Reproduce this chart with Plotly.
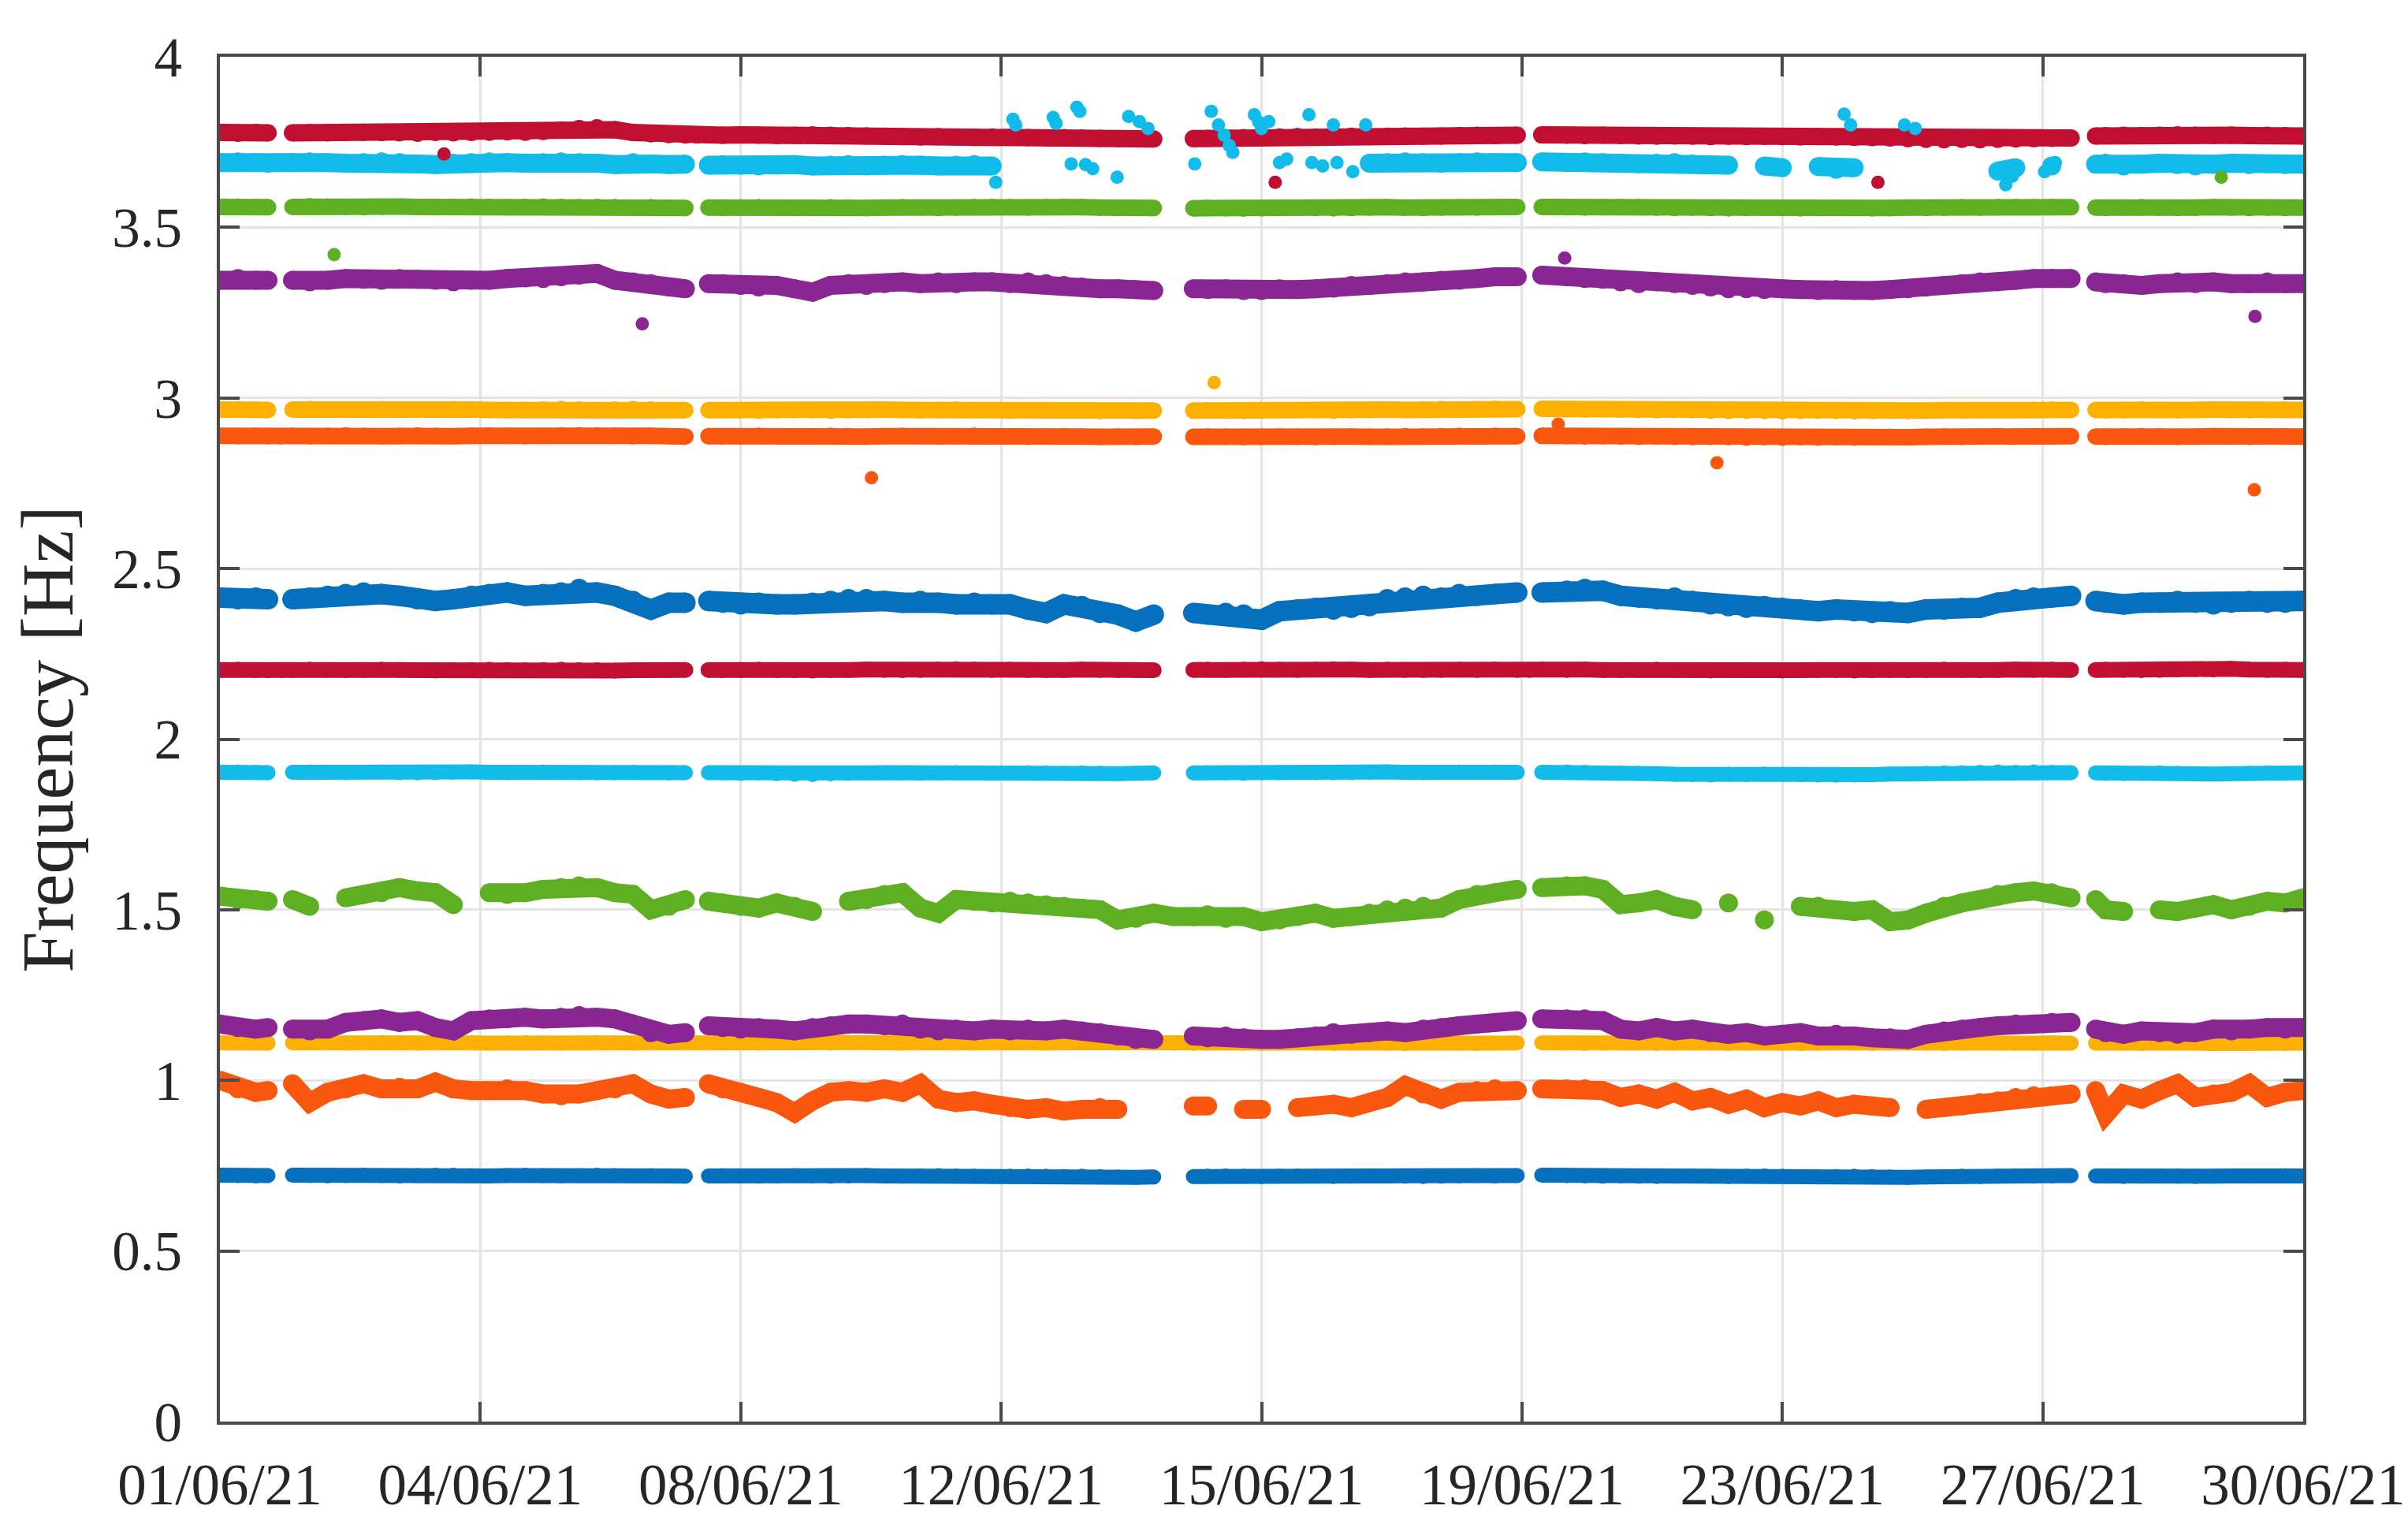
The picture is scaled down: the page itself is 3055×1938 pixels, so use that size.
import plotly.graph_objects as go

# ---------------- data ----------------
# sample days (day of June 2021, fractional); the entries 1.84, 7.64, 14.28,
# 19.23 and 26.94 sit inside the short recording gaps
DAYS = [
    1.0, 1.25, 1.5, 1.67,
    1.84,
    2.01, 2.25, 2.5, 2.75, 3.0, 3.25, 3.5, 3.75, 4.0, 4.25, 4.5, 4.75, 5.0, 5.25,
    5.5, 5.75, 6.0, 6.25, 6.5, 6.75, 7.0, 7.25, 7.48,
    7.64,
    7.8, 8.0, 8.25, 8.5, 8.75, 9.0, 9.25, 9.5, 9.75, 10.0, 10.25, 10.5, 10.75, 11.0,
    11.25, 11.5, 11.75, 12.0, 12.25, 12.5, 12.75, 13.0, 13.25, 13.5, 13.75, 14.0,
    14.28,
    14.55, 14.75, 15.0, 15.25, 15.5, 15.75, 16.0, 16.25, 16.5, 16.75, 17.0, 17.25,
    17.5, 17.75, 18.0, 18.25, 18.5, 18.75, 19.06,
    19.23,
    19.4, 19.75, 20.0, 20.25, 20.5, 20.75, 21.0, 21.25, 21.5, 21.75, 22.0, 22.25,
    22.5, 22.75, 23.0, 23.25, 23.5, 23.75, 24.0, 24.25, 24.5, 24.75, 25.0, 25.25,
    25.5, 25.75, 26.0, 26.25, 26.5, 26.77,
    26.94,
    27.11, 27.25, 27.5, 27.75, 28.0, 28.25, 28.5, 28.75, 29.0, 29.25, 29.5, 29.75, 30.0,
]

BLUE_072 = [
    0.722, 0.721, 0.720, 0.721,
    None,
    0.722, 0.721, 0.720, 0.721, 0.722, 0.721, 0.720, 0.721, 0.722, 0.722, 0.721, 0.720,
    0.721, 0.722, 0.721, 0.720, 0.721, 0.722, 0.721, 0.720, 0.721, 0.720, 0.719,
    None,
    0.720, 0.721, 0.720, 0.719, 0.720, 0.721, 0.720, 0.719, 0.720, 0.721, 0.720, 0.719,
    0.720, 0.721, 0.720, 0.719, 0.718, 0.719, 0.720, 0.719, 0.718, 0.719, 0.718, 0.717,
    0.716, 0.717,
    None,
    0.718, 0.719, 0.720, 0.719, 0.718, 0.719, 0.720, 0.719, 0.718, 0.719, 0.720, 0.720,
    0.719, 0.718, 0.719, 0.720, 0.721, 0.720, 0.721,
    None,
    0.722, 0.721, 0.720, 0.719, 0.720, 0.719, 0.718, 0.719, 0.720, 0.719, 0.718, 0.719,
    0.720, 0.719, 0.718, 0.717, 0.718, 0.719, 0.718, 0.717, 0.716, 0.717, 0.718, 0.719,
    0.718, 0.719, 0.720, 0.719, 0.720, 0.721,
    None,
    0.720, 0.719, 0.718, 0.719, 0.720, 0.719, 0.718, 0.719, 0.720, 0.719, 0.720, 0.721, 0.720,
]

ORANGE_096 = [
    1.00, 0.975, 0.965, 0.97,
    None,
    0.99, 0.935, 0.965, 0.975, 0.99, 0.975, 0.98, 0.975, 0.995, 0.975, 0.97, 0.97,
    0.975, 0.97, 0.96, 0.955, 0.96, 0.97, 0.975, 0.99, 0.96, 0.945, 0.95,
    None,
    0.99, 0.975, 0.965, 0.95, 0.935, 0.905, 0.94, 0.965, 0.97, 0.965, 0.975, 0.965,
    0.99, 0.945, 0.935, 0.94, 0.93, 0.92, 0.915, 0.92, 0.91, 0.915, 0.92, 0.915,
    None, None,
    None,
    0.925, 0.925, None, 0.915, 0.915, None, 0.92, 0.925, 0.93, 0.92, 0.935, 0.95,
    0.985, 0.96, 0.945, 0.965, 0.97, 0.975, 0.97,
    None,
    0.975, 0.975, 0.975, 0.97, 0.95, 0.96, 0.945, 0.965, 0.94, 0.95, 0.93, 0.945,
    0.92, 0.935, 0.925, 0.94, 0.92, 0.93, 0.925, 0.92, None, 0.915, 0.92, 0.925,
    0.935, 0.94, 0.95, 0.955, 0.955, 0.96,
    None,
    0.97, 0.90, 0.96, 0.945, 0.97, 0.99, 0.95, 0.96, 0.965, 0.99, 0.95, 0.965, 0.97,
]

YELLOW_111 = [
    1.110, 1.111, 1.110, 1.109,
    None,
    1.110, 1.111, 1.110, 1.109, 1.110, 1.111, 1.110, 1.109, 1.110, 1.111, 1.110, 1.109,
    1.110, 1.111, 1.110, 1.109, 1.110, 1.111, 1.110, 1.109, 1.110, 1.111, 1.110,
    1.110,
    1.110, 1.111, 1.110, 1.109, 1.110, 1.111, 1.110, 1.109, 1.110, 1.111, 1.110, 1.109,
    1.110, 1.111, 1.110, 1.109, 1.110, 1.111, 1.110, 1.109, 1.110, 1.111, 1.110, 1.109,
    1.110, 1.109,
    1.109,
    1.108, 1.109, 1.110, 1.109, 1.108, 1.109, 1.110, 1.109, 1.108, 1.109, 1.110, 1.109,
    1.108, 1.109, 1.110, 1.109, 1.108, 1.109, 1.110,
    None,
    1.110, 1.109, 1.108, 1.109, 1.110, 1.109, 1.108, 1.109, 1.110, 1.109, 1.108, 1.109,
    1.110, 1.109, 1.108, 1.109, 1.110, 1.109, 1.108, 1.109, 1.110, 1.109, 1.108, 1.109,
    1.110, 1.109, 1.108, 1.109, 1.110, 1.109,
    None,
    1.109, 1.110, 1.109, 1.108, 1.109, 1.110, 1.109, 1.108, 1.109, 1.110, 1.109, 1.108, 1.109,
]

PURPLE_115 = [
    1.165, 1.155, 1.15, 1.155,
    None,
    1.15, 1.145, 1.15, 1.17, 1.175, 1.18, 1.17, 1.175, 1.155, 1.145, 1.175, 1.18,
    1.18, 1.185, 1.18, 1.185, 1.19, 1.185, 1.18, 1.165, 1.14, 1.135, 1.14,
    None,
    1.16, 1.155, 1.15, 1.155, 1.15, 1.145, 1.155, 1.16, 1.165, 1.165, 1.16, 1.165,
    1.15, 1.145, 1.15, 1.145, 1.15, 1.145, 1.15, 1.145, 1.15, 1.145, 1.14, 1.13,
    1.12, 1.12,
    None,
    1.13, 1.125, 1.13, 1.125, 1.12, 1.12, 1.125, 1.13, 1.14, 1.135, 1.14, 1.145,
    1.14, 1.15, 1.155, 1.16, 1.165, 1.17, 1.175,
    None,
    1.18, 1.18, 1.18, 1.175, 1.15, 1.145, 1.155, 1.145, 1.15, 1.14, 1.135, 1.14,
    1.13, 1.135, 1.14, 1.13, 1.135, 1.13, 1.125, 1.125, 1.12, 1.135, 1.145, 1.15,
    1.155, 1.16, 1.165, 1.165, 1.17, 1.17,
    None,
    1.15, 1.14, 1.135, 1.145, 1.14, 1.135, 1.14, 1.15, 1.145, 1.15, 1.155, 1.15, 1.155,
]

GREEN_152 = [
    1.54, 1.53, 1.53, 1.525,
    None,
    1.53, 1.51, None, 1.535, 1.545, 1.55, 1.565, 1.555, 1.55, 1.515, None, 1.55,
    1.545, 1.55, 1.56, 1.565, 1.57, 1.565, 1.55, 1.545, 1.50, 1.51, 1.53,
    None,
    1.525, 1.52, 1.51, 1.505, 1.52, 1.51, 1.495, None, 1.525, 1.53, 1.545, 1.55,
    1.505, 1.49, 1.53, 1.525, 1.52, 1.525, 1.52, 1.515, 1.51, 1.505, 1.50, 1.47,
    1.475, 1.49,
    1.48,
    1.48, 1.485, 1.475, 1.48, 1.465, 1.47, 1.48, 1.49, 1.475, 1.48, 1.49, 1.50,
    1.505, 1.51, 1.505, 1.53, 1.545, 1.55, 1.56,
    None,
    1.565, 1.57, 1.57, 1.56, 1.515, 1.52, 1.53, 1.51, 1.50, None, 1.52, None,
    1.47, None, 1.51, 1.51, 1.50, 1.495, 1.50, 1.465, 1.47, 1.49, 1.51, 1.52,
    1.53, 1.545, 1.55, 1.555, 1.55, 1.535,
    None,
    1.53, 1.50, 1.495, None, 1.50, 1.495, 1.505, 1.515, 1.50, 1.51, 1.525, 1.52, 1.535,
]

CYAN_190 = [
    1.903, 1.904, 1.903, 1.902,
    None,
    1.903, 1.904, 1.903, 1.902, 1.903, 1.904, 1.902, 1.901, 1.902, 1.903, 1.904, 1.903,
    1.902, 1.903, 1.904, 1.903, 1.902, 1.901, 1.902, 1.903, 1.902, 1.901, 1.902,
    None,
    1.902, 1.901, 1.900, 1.901, 1.899, 1.897, 1.896, 1.898, 1.900, 1.901, 1.902, 1.901,
    1.900, 1.901, 1.902, 1.901, 1.900, 1.901, 1.902, 1.901, 1.900, 1.901, 1.900, 1.899,
    1.900, 1.901,
    None,
    1.901, 1.902, 1.901, 1.900, 1.901, 1.902, 1.903, 1.902, 1.901, 1.902, 1.903, 1.904,
    1.903, 1.902, 1.903, 1.904, 1.903, 1.904, 1.903,
    None,
    1.903, 1.904, 1.903, 1.902, 1.901, 1.900, 1.899, 1.897, 1.896, 1.895, 1.897, 1.896,
    1.898, 1.897, 1.896, 1.895, 1.894, 1.895, 1.896, 1.898, 1.899, 1.900, 1.901, 1.902,
    1.903, 1.904, 1.903, 1.904, 1.903, 1.902,
    None,
    1.901, 1.900, 1.899, 1.900, 1.901, 1.900, 1.899, 1.898, 1.899, 1.900, 1.901, 1.900, 1.901,
]

RED_220 = [
    2.203, 2.204, 2.203, 2.202,
    2.203,
    2.203, 2.204, 2.203, 2.202, 2.203, 2.204, 2.203, 2.202, 2.201, 2.202, 2.203, 2.204,
    2.203, 2.202, 2.203, 2.204, 2.203, 2.202, 2.201, 2.202, 2.203, 2.202, 2.203,
    None,
    2.203, 2.202, 2.203, 2.204, 2.203, 2.202, 2.201, 2.202, 2.203, 2.204, 2.203, 2.202,
    2.203, 2.204, 2.205, 2.204, 2.203, 2.204, 2.203, 2.202, 2.203, 2.204, 2.203, 2.202,
    2.203, 2.202,
    None,
    2.203, 2.204, 2.203, 2.204, 2.205, 2.204, 2.203, 2.204, 2.205, 2.204, 2.203, 2.204,
    2.203, 2.202, 2.203, 2.204, 2.203, 2.204, 2.203,
    2.203,
    2.204, 2.203, 2.204, 2.203, 2.202, 2.203, 2.204, 2.203, 2.202, 2.201, 2.202, 2.203,
    2.202, 2.201, 2.202, 2.203, 2.202, 2.201, 2.202, 2.203, 2.202, 2.203, 2.204, 2.203,
    2.202, 2.203, 2.204, 2.203, 2.204, 2.203,
    None,
    2.203, 2.204, 2.203, 2.202, 2.203, 2.204, 2.205, 2.204, 2.206, 2.204, 2.203, 2.204, 2.203,
]

BLUE_240 = [
    2.415, 2.41, 2.415, 2.41,
    None,
    2.41, 2.415, 2.42, 2.425, 2.43, 2.425, 2.42, 2.41, 2.405, 2.41, 2.42, 2.425,
    2.43, 2.42, 2.425, 2.43, 2.44, 2.43, 2.42, 2.405, 2.38, 2.40, 2.40,
    None,
    2.405, 2.40, 2.395, 2.40, 2.395, 2.395, 2.40, 2.405, 2.41, 2.41, 2.405, 2.40,
    2.405, 2.40, 2.395, 2.40, 2.395, 2.395, 2.38, 2.37, 2.395, 2.39, 2.37, 2.365,
    2.345, 2.365,
    None,
    2.37, 2.365, 2.37, 2.365, 2.35, 2.375, 2.38, 2.385, 2.38, 2.385, 2.39, 2.41,
    2.415, 2.42, 2.415, 2.425, 2.42, 2.425, 2.43,
    None,
    2.43, 2.435, 2.44, 2.435, 2.42, 2.415, 2.41, 2.415, 2.405, 2.395, 2.39, 2.385,
    2.39, 2.385, 2.38, 2.375, 2.38, 2.375, 2.37, 2.375, 2.37, 2.38, 2.38, 2.385,
    2.385, 2.40, 2.41, 2.415, 2.415, 2.42,
    None,
    2.405, 2.40, 2.395, 2.40, 2.40, 2.405, 2.40, 2.395, 2.40, 2.405, 2.40, 2.40, 2.405,
]

ORANGE_288 = [
    2.889, 2.888, 2.889, 2.888,
    2.888,
    2.889, 2.888, 2.889, 2.890, 2.889, 2.888, 2.889, 2.890, 2.889, 2.888, 2.889, 2.890,
    2.889, 2.888, 2.889, 2.890, 2.891, 2.890, 2.889, 2.888, 2.889, 2.888, 2.887,
    None,
    2.888, 2.887, 2.888, 2.889, 2.888, 2.887, 2.888, 2.889, 2.888, 2.887, 2.888, 2.889,
    2.888, 2.887, 2.888, 2.889, 2.888, 2.887, 2.886, 2.887, 2.888, 2.887, 2.886, 2.887,
    2.886, 2.887,
    None,
    2.886, 2.887, 2.886, 2.885, 2.886, 2.887, 2.886, 2.885, 2.886, 2.887, 2.886, 2.887,
    2.888, 2.887, 2.888, 2.889, 2.888, 2.889, 2.888,
    None,
    2.889, 2.888, 2.887, 2.888, 2.887, 2.886, 2.887, 2.886, 2.885, 2.886, 2.885, 2.884,
    2.885, 2.884, 2.885, 2.884, 2.885, 2.884, 2.885, 2.886, 2.885, 2.886, 2.887, 2.886,
    2.887, 2.888, 2.887, 2.888, 2.887, 2.888,
    None,
    2.887, 2.886, 2.887, 2.888, 2.887, 2.886, 2.887, 2.888, 2.887, 2.886, 2.887, 2.888, 2.887,
]

YELLOW_296 = [
    2.966, 2.967, 2.966, 2.965,
    None,
    2.966, 2.967, 2.966, 2.965, 2.966, 2.967, 2.966, 2.965, 2.966, 2.967, 2.966, 2.965,
    2.964, 2.965, 2.966, 2.967, 2.966, 2.965, 2.966, 2.967, 2.966, 2.965, 2.964,
    None,
    2.964, 2.965, 2.964, 2.963, 2.964, 2.965, 2.964, 2.963, 2.964, 2.965, 2.966, 2.965,
    2.964, 2.965, 2.966, 2.965, 2.964, 2.963, 2.964, 2.965, 2.964, 2.963, 2.962, 2.963,
    2.962, 2.963,
    None,
    2.963, 2.964, 2.963, 2.962, 2.963, 2.964, 2.965, 2.964, 2.963, 2.964, 2.965, 2.966,
    2.965, 2.966, 2.967, 2.966, 2.967, 2.968, 2.967,
    None,
    2.968, 2.967, 2.966, 2.967, 2.966, 2.965, 2.964, 2.965, 2.964, 2.963, 2.962, 2.963,
    2.962, 2.961, 2.962, 2.963, 2.962, 2.961, 2.962, 2.963, 2.962, 2.963, 2.964, 2.963,
    2.964, 2.965, 2.964, 2.965, 2.966, 2.965,
    None,
    2.965, 2.964, 2.965, 2.966, 2.965, 2.964, 2.965, 2.966, 2.965, 2.964, 2.965, 2.966, 2.965,
]

PURPLE_333 = [
    3.345, 3.35, 3.345, 3.345,
    None,
    3.345, 3.34, 3.345, 3.35, 3.348, 3.345, 3.35, 3.348, 3.345, 3.34, 3.345, 3.345,
    3.35, 3.352, 3.35, 3.355, 3.36, 3.365, 3.345, 3.34, 3.335, 3.325, 3.32,
    None,
    3.335, 3.335, 3.33, 3.325, 3.33, 3.32, 3.31, 3.33, 3.335, 3.33, 3.335, 3.34,
    3.335, 3.34, 3.335, 3.34, 3.34, 3.335, 3.34, 3.335, 3.33, 3.325, 3.32, 3.32,
    3.318, 3.315,
    None,
    3.32, 3.318, 3.32, 3.315, 3.315, 3.32, 3.318, 3.32, 3.322, 3.33, 3.33, 3.335,
    3.34, 3.34, 3.345, 3.345, 3.35, 3.355, 3.355,
    None,
    3.36, 3.355, 3.35, 3.348, 3.34, 3.335, 3.34, 3.335, 3.33, 3.325, 3.32, 3.32,
    3.318, 3.32, 3.318, 3.315, 3.318, 3.315, 3.315, 3.318, 3.32, 3.325, 3.33, 3.335,
    3.34, 3.34, 3.345, 3.35, 3.35, 3.35,
    None,
    3.34, 3.335, 3.335, 3.33, 3.335, 3.34, 3.335, 3.34, 3.335, 3.335, 3.34, 3.335, 3.335,
]

GREEN_355 = [
    3.560, 3.561, 3.560, 3.559,
    None,
    3.560, 3.562, 3.561, 3.560, 3.559, 3.560, 3.561, 3.560, 3.559, 3.560, 3.561, 3.560,
    3.559, 3.560, 3.561, 3.560, 3.559, 3.560, 3.559, 3.558, 3.559, 3.558, 3.557,
    None,
    3.558, 3.557, 3.558, 3.559, 3.558, 3.557, 3.558, 3.559, 3.558, 3.557, 3.558, 3.559,
    3.558, 3.557, 3.558, 3.559, 3.560, 3.559, 3.558, 3.559, 3.560, 3.559, 3.558, 3.557,
    3.558, 3.557,
    None,
    3.556, 3.557, 3.556, 3.555, 3.556, 3.557, 3.558, 3.557, 3.556, 3.557, 3.558, 3.559,
    3.558, 3.557, 3.558, 3.559, 3.558, 3.559, 3.560,
    None,
    3.560, 3.559, 3.558, 3.559, 3.560, 3.559, 3.558, 3.557, 3.558, 3.557, 3.556, 3.557,
    3.558, 3.557, 3.556, 3.557, 3.558, 3.557, 3.556, 3.557, 3.558, 3.557, 3.558, 3.559,
    3.558, 3.559, 3.560, 3.559, 3.560, 3.559,
    None,
    3.558, 3.557, 3.558, 3.559, 3.558, 3.557, 3.558, 3.559, 3.558, 3.557, 3.558, 3.557, 3.558,
]

CYAN_368 = [
    3.690, 3.692, 3.690, 3.688,
    3.690,
    3.690, 3.692, 3.690, 3.688, 3.690, 3.692, 3.690, 3.686, 3.684, 3.688, 3.690, 3.692,
    3.690, 3.688, 3.690, 3.692, 3.690, 3.688, 3.684, 3.690, 3.686, 3.684, 3.685,
    None,
    3.682, 3.684, 3.682, 3.680, 3.682, 3.684, 3.680, 3.682, 3.684, 3.680, 3.682, 3.684,
    3.682, 3.680, 3.682, 3.684, 3.680, None, None, None, None, None, None, None,
    None, None,
    None,
    None, None, None, None, None, None, None, None, None, None, 3.688, 3.690,
    3.692, 3.690, 3.688, 3.690, 3.692, 3.690, 3.690,
    None,
    3.692, 3.690, 3.692, 3.690, 3.688, 3.686, 3.688, 3.690, 3.686, 3.684, 3.682, None,
    3.680, 3.675, None, 3.678, 3.670, 3.675, None, None, None, None, None, None,
    None, 3.665, 3.675, None, 3.680, None,
    None,
    3.685, 3.688, 3.680, 3.685, 3.688, 3.684, 3.680, 3.685, 3.688, 3.684, 3.686, 3.684, 3.685,
]

RED_377 = [
    3.778, 3.776, 3.778, 3.777,
    None,
    3.777, 3.778, 3.777, 3.778, 3.779, 3.778, 3.777, 3.776, 3.778, 3.777, 3.778, 3.779,
    3.780, 3.779, 3.781, 3.785, 3.790, 3.792, 3.786, 3.778, 3.774, 3.772, 3.771,
    3.771,
    3.771, 3.770, 3.771, 3.770, 3.769, 3.770, 3.771, 3.770, 3.769, 3.768, 3.767, 3.766,
    3.765, 3.766, 3.765, 3.764, 3.765, 3.764, 3.763, 3.762, 3.763, 3.762, 3.761, 3.760,
    3.760, 3.759,
    None,
    3.760, 3.761, 3.762, 3.763, 3.764, 3.765, 3.766, 3.765, 3.766, 3.767, 3.766, 3.767,
    3.768, 3.767, 3.768, 3.769, 3.770, 3.769, 3.770,
    None,
    3.771, 3.770, 3.769, 3.770, 3.769, 3.768, 3.767, 3.768, 3.767, 3.766, 3.767, 3.766,
    3.767, 3.766, 3.765, 3.766, 3.765, 3.764, 3.763, 3.762, 3.760, 3.758, 3.757, 3.758,
    3.757, 3.758, 3.759, 3.760, 3.761, 3.762,
    None,
    3.768, 3.769, 3.770, 3.769, 3.770, 3.771, 3.770, 3.769, 3.770, 3.769, 3.770, 3.769, 3.768,
]

# isolated detections (day, frequency)
OUT_CYAN_DAY = [11.80, 12.04, 12.08, 12.60, 12.64, 12.93, 12.97, 12.85, 13.05, 13.15,
                13.49, 13.65, 13.80, 13.92, 14.57, 14.80, 14.90, 14.98, 15.05, 15.10,
                15.40, 15.46, 15.50, 15.60, 15.75, 15.85, 16.16, 16.20, 16.35, 16.50,
                16.55, 16.77, 16.95, 23.61, 23.70, 24.45, 24.60, 25.86, 25.95, 26.40, 26.55]
OUT_CYAN_VAL = [3.632, 3.817, 3.800, 3.822, 3.805, 3.852, 3.840, 3.686, 3.684, 3.672,
                3.647, 3.825, 3.810, 3.790, 3.686, 3.840, 3.800, 3.770, 3.740, 3.720,
                3.830, 3.809, 3.790, 3.810, 3.690, 3.700, 3.830, 3.690, 3.680, 3.800,
                3.690, 3.663, 3.800, 3.832, 3.800, 3.800, 3.790, 3.625, 3.650, 3.663, 3.690]
OUT_RED_DAY = [4.12, 15.69, 24.08]
OUT_RED_VAL = [3.715, 3.632, 3.632]
OUT_GREEN_DAY = [2.59, 28.86]
OUT_GREEN_VAL = [3.420, 3.647]
OUT_PURPLE_DAY = [6.88, 19.72, 29.33]
OUT_PURPLE_VAL = [3.217, 3.410, 3.239]
OUT_ORANGE_DAY = [10.07, 19.63, 21.84, 29.32]
OUT_ORANGE_VAL = [2.766, 2.923, 2.810, 2.731]
OUT_YELLOW_DAY = [14.84]
OUT_YELLOW_VAL = [3.045]

X_TICK_LABELS = ["01/06/21", "04/06/21", "08/06/21", "12/06/21", "15/06/21",
                 "19/06/21", "23/06/21", "27/06/21", "30/06/21"]
Y_TICKS = [0, 0.5, 1, 1.5, 2, 2.5, 3, 3.5, 4]

# ---------------- styling ----------------
C_BLUE = "#0571BE"
C_ORANGE = "#F9560E"
C_YELLOW = "#FCB002"
C_PURPLE = "#8A2693"
C_GREEN = "#5EAF22"
C_CYAN = "#12BCEA"
C_RED = "#C10F32"

MODES = [
    (BLUE_072, C_BLUE, 19),
    (ORANGE_096, C_ORANGE, 24),
    (YELLOW_111, C_YELLOW, 19),
    (PURPLE_115, C_PURPLE, 24),
    (GREEN_152, C_GREEN, 24),
    (CYAN_190, C_CYAN, 19),
    (RED_220, C_RED, 20),
    (BLUE_240, C_BLUE, 26),
    (ORANGE_288, C_ORANGE, 21),
    (YELLOW_296, C_YELLOW, 21),
    (PURPLE_333, C_PURPLE, 24),
    (GREEN_355, C_GREEN, 21),
    (CYAN_368, C_CYAN, 24),
    (RED_377, C_RED, 22),
]
OUTLIERS = [
    (OUT_CYAN_DAY, OUT_CYAN_VAL, C_CYAN),
    (OUT_RED_DAY, OUT_RED_VAL, C_RED),
    (OUT_GREEN_DAY, OUT_GREEN_VAL, C_GREEN),
    (OUT_PURPLE_DAY, OUT_PURPLE_VAL, C_PURPLE),
    (OUT_ORANGE_DAY, OUT_ORANGE_VAL, C_ORANGE),
    (OUT_YELLOW_DAY, OUT_YELLOW_VAL, C_YELLOW),
]

for vals, _, _ in MODES:
    assert len(vals) == len(DAYS), (len(vals), len(DAYS))

fig = go.Figure()
for vals, color, w in MODES:
    fig.add_trace(go.Scatter(
        x=DAYS, y=vals, mode="lines+markers", connectgaps=False,
        line=dict(color=color, width=w),
        marker=dict(color=color, size=w, line=dict(width=0)),
        hoverinfo="skip", showlegend=False))
for xd, yv, color in OUTLIERS:
    fig.add_trace(go.Scatter(
        x=xd, y=yv, mode="markers",
        marker=dict(color=color, size=17, line=dict(width=0)),
        hoverinfo="skip", showlegend=False))

AX_COLOR = "#4A4A4A"
GRID_COLOR = "#E4E4E4"
FONT = "Liberation Serif"

x_start, x_end = 1.0, 30.0
x_tickvals = [x_start + k * (x_end - x_start) / (len(X_TICK_LABELS) - 1)
              for k in range(len(X_TICK_LABELS))]

fig.update_layout(
    width=3055, height=1938,
    margin=dict(l=271, r=141, t=64, b=143),
    paper_bgcolor="white", plot_bgcolor="white",
    font=dict(family=FONT, size=72, color="#262626"),
    showlegend=False,
)
fig.update_xaxes(
    range=[x_start, x_end], tickmode="array", tickvals=x_tickvals, ticktext=X_TICK_LABELS,
    showgrid=True, gridcolor=GRID_COLOR, gridwidth=2.5,
    showline=True, linecolor=AX_COLOR, linewidth=3.5, mirror="ticks",
    ticks="inside", ticklen=25, tickwidth=3.5, tickcolor=AX_COLOR,
    zeroline=False, tickfont=dict(family=FONT, size=73, color="#262626"),
    ticklabelstandoff=14,
)
fig.update_yaxes(
    range=[0, 4], tickmode="array", tickvals=Y_TICKS,
    ticktext=[("%g" % v) for v in Y_TICKS],
    showgrid=True, gridcolor=GRID_COLOR, gridwidth=2.5,
    showline=True, linecolor=AX_COLOR, linewidth=3.5, mirror="ticks",
    ticks="inside", ticklen=25, tickwidth=3.5, tickcolor=AX_COLOR,
    zeroline=False, tickfont=dict(family=FONT, size=71, color="#262626"),
    ticklabelstandoff=30,
    title=dict(text="Frequency [Hz]", font=dict(family=FONT, size=94, color="#262626"),
               standoff=22),
)

fig.write_html("out.html")
